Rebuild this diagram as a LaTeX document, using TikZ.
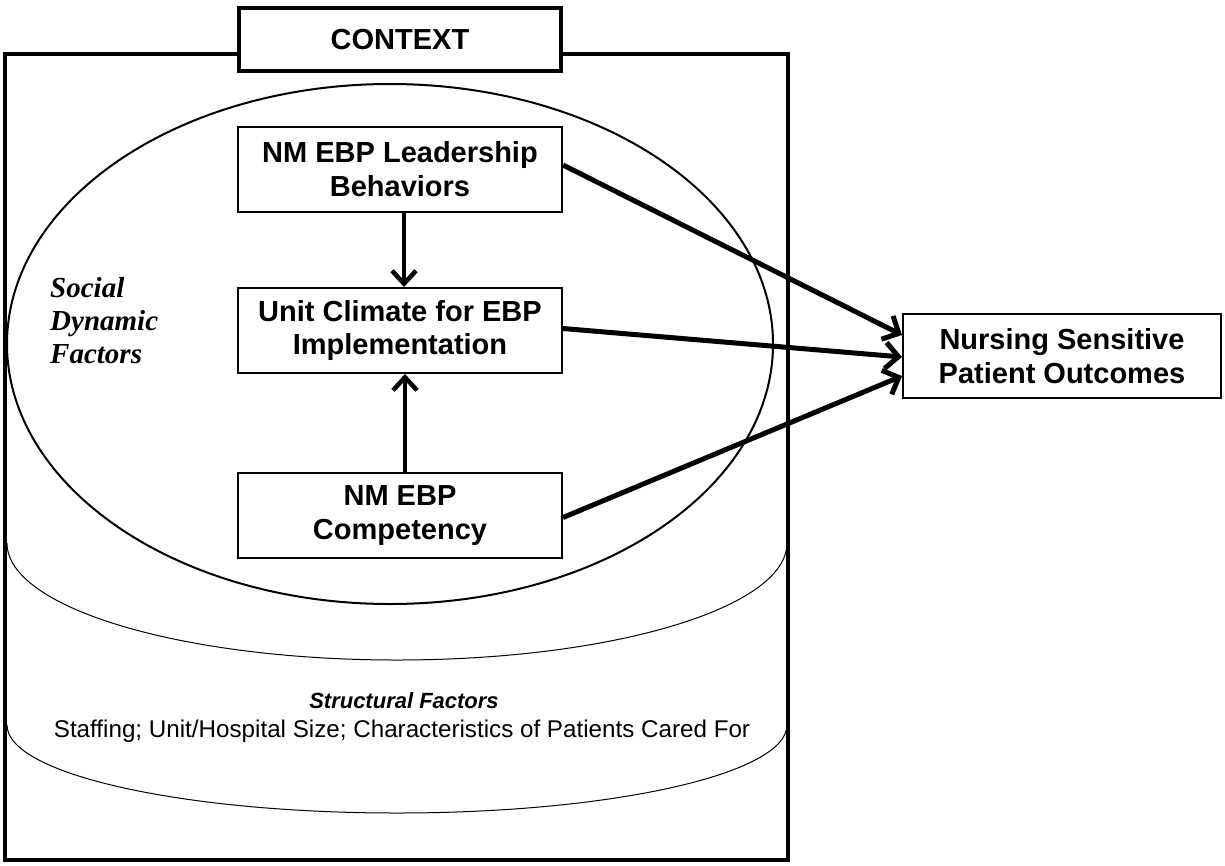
\documentclass[tikz,border=0pt]{standalone}
\usepackage{fontspec}
\setmainfont{Liberation Sans}
\newfontfamily\serifit{Liberation Serif}
\usetikzlibrary{arrows.meta}
\begin{document}
\begin{tikzpicture}[x=1pt,y=-1pt,
  box/.style={draw, line width=2pt, fill=white, minimum width=324pt, minimum height=85pt, align=center, inner sep=0pt, font=\bfseries\fontsize{29pt}{33.5pt}\selectfont},
  ctxbox/.style={box, line width=4pt, minimum height=63pt, minimum width=322pt},
  arr/.style={line width=5pt, -{Straight Barb[length=13pt,width=26pt]}},
  varr/.style={line width=4.5pt, -{Straight Barb[length=13pt,width=24pt]}},
  thinarc/.style={line width=1pt}]
\useasboundingbox (0,0) rectangle (1225,865);
\fill[white] (0,0) rectangle (1225,865);
\draw[line width=4pt] (5,54) rectangle (788,860);
\draw[thinarc] (7,543) .. controls (7,608) and (182,660) .. (397,660) .. controls (612,660) and (787,608) .. (787,543);
\draw[thinarc] (7,725) .. controls (7,774) and (182,813) .. (397,813) .. controls (612,813) and (787,774) .. (787,725);
\draw[line width=2pt] (390,344) ellipse [x radius=383, y radius=260];
\node[ctxbox] (ctx) at (400,39.5) {CONTEXT};
\node[box] (lead) at (400,169) {NM EBP Leadership\\Behaviors};
\node[box] (unit) at (400,330.5) {Unit Climate for EBP\\Implementation};
\node[box] (comp) at (400,515.5) {NM EBP\\Competency};
\node[box, minimum width=318pt, minimum height=84pt] (nurse) at (1062,356) {Nursing Sensitive\\Patient Outcomes};
\node[anchor=west, align=left, inner sep=0pt, font=\serifit\bfseries\itshape\fontsize{29pt}{33pt}\selectfont] (sdf) at (50,320.5) {Social\\Dynamic\\Factors};
\node[anchor=base, inner sep=0pt, font=\bfseries\itshape\fontsize{22pt}{25pt}\selectfont] (sf) at (404,708) {Structural Factors};
\node[anchor=base, inner sep=0pt, font=\fontsize{24.2pt}{28pt}\selectfont] (staff) at (402,737) {Staffing; Unit/Hospital Size; Characteristics of Patients Cared For};
\draw[varr] ([xshift=4pt]lead.south) -- ([xshift=4pt]unit.north);
\draw[varr] ([xshift=5pt]comp.north) -- ([xshift=5pt]unit.south);
\draw[arr] ([yshift=4pt]lead.east) -- ([yshift=21pt]nurse.west);
\draw[arr] ([yshift=2pt]unit.east) -- ([yshift=-1pt]nurse.west);
\draw[arr] ([yshift=-2pt]comp.east) -- ([yshift=-20pt]nurse.west);
\end{tikzpicture}
\end{document}
